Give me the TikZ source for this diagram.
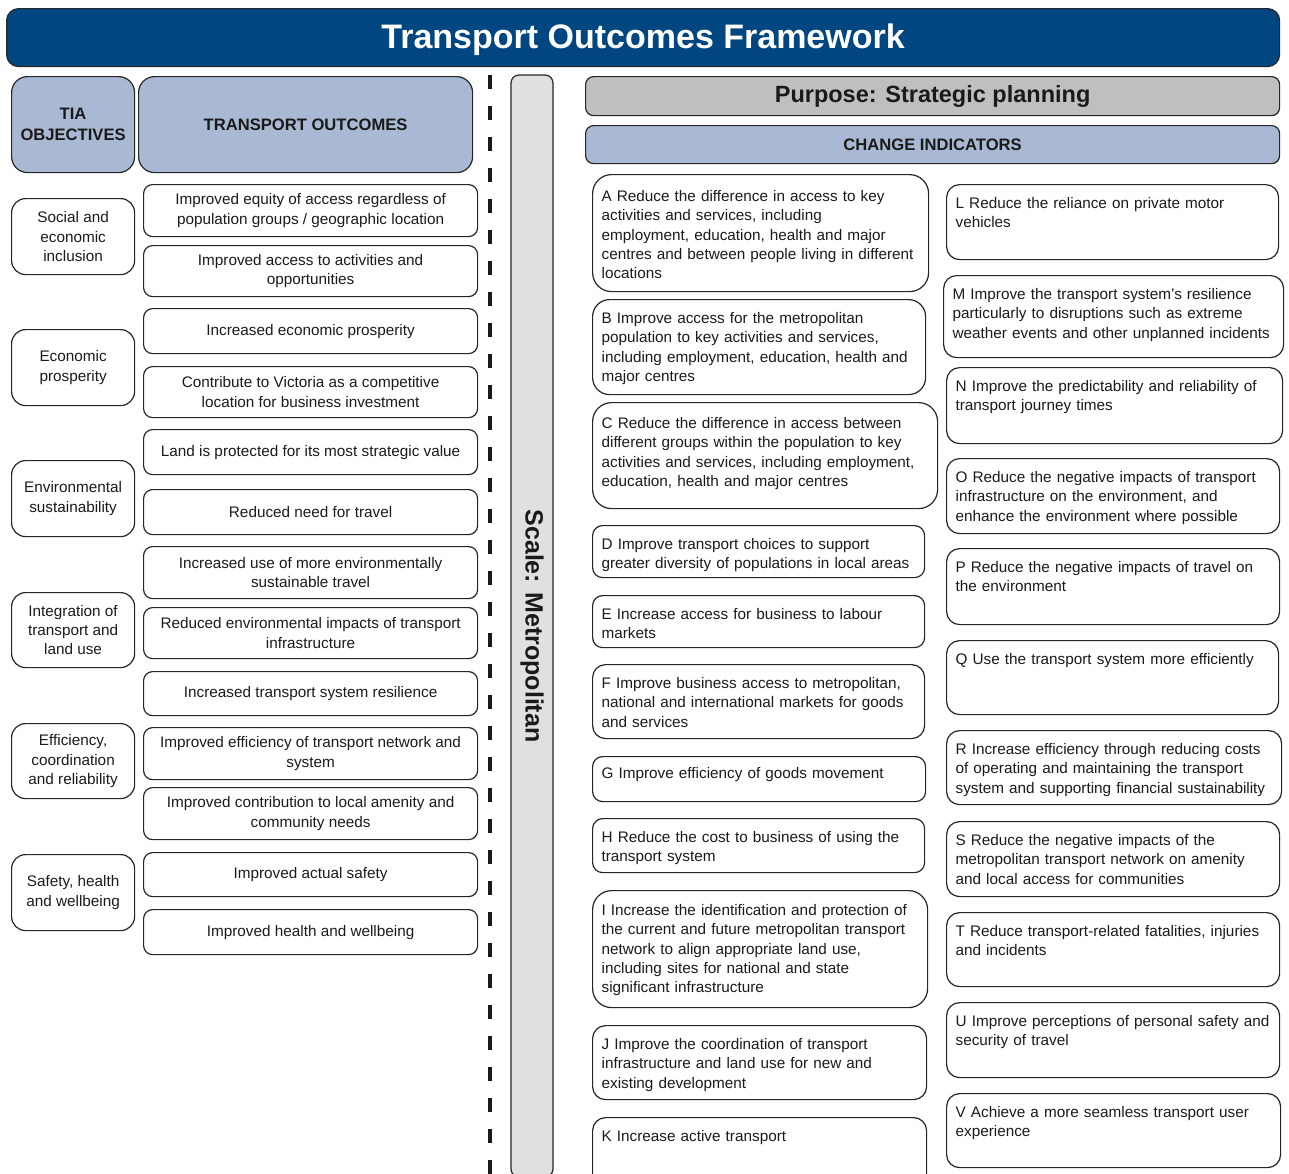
\documentclass[tikz,border=0pt]{standalone}
\usepackage{fontspec}
\setmainfont{Liberation Sans}
\usepackage{xcolor}
\usepackage{tikz}
\usetikzlibrary{positioning}
\definecolor{titleblue}{HTML}{004680}
\definecolor{headblue}{HTML}{A9B9D4}
\definecolor{purposegrey}{HTML}{BFBFBF}
\definecolor{scalegrey}{HTML}{E0E0E0}
\definecolor{border}{HTML}{262626}
\definecolor{ink}{HTML}{1A1A1A}
\tikzset{
  box/.style={draw=border, line width=1.2pt, rounded corners=10pt, anchor=north west, inner sep=0pt, text=ink, font=\fontsize{15.3}{19.2}\selectfont},
  head/.style={box, fill=headblue, rounded corners=16pt, align=center, font=\bfseries\fontsize{16.6}{21}\selectfont},
  obj/.style={box, rounded corners=14pt, minimum width=123pt, align=center},
  outc/.style={box, rounded corners=9pt, minimum width=334pt, align=center},
  ind/.style={box, rounded corners=13pt, align=left, inner xsep=9pt, text height=24pt},
  dashline/.style={draw=ink, line width=3.5pt, dash pattern=on 14pt off 17pt},
}

\begin{document}
\begin{tikzpicture}[x=1pt, y=-1pt]
\useasboundingbox (0,0) rectangle (1289,1173);
\clip (0,0) rectangle (1289,1173);

% title and headers
\node[box, fill=titleblue, rounded corners=12pt, minimum width=1273pt, minimum height=58pt, text=white, font=\bfseries\fontsize{34}{40}\selectfont, text height=27pt, text depth=5pt] (title) at (6,8) {Transport Outcomes Framework};
\node[head, minimum width=123pt, minimum height=96pt] (tia) at (11,76) {TIA\\OBJECTIVES};
\node[head, minimum width=334pt, minimum height=96pt] (outhead) at (138,76) {TRANSPORT OUTCOMES};
\node[box, fill=purposegrey, rounded corners=8pt, minimum width=694pt, minimum height=39pt, font=\bfseries\fontsize{23.5}{28}\selectfont] (purpose) at (585,76) {Purpose: Strategic planning};
\node[head, rounded corners=8pt, minimum width=694pt, minimum height=38pt] (indhead) at (585,125) {CHANGE INDICATORS};

% divider and scale bar
\draw[dashline] (490,75) -- (490,1180);
\node[draw=border, line width=1.2pt, fill=scalegrey, rounded corners=8pt, rotate=-90, minimum width=1102pt, minimum height=42pt, inner sep=0pt, text=ink, font=\bfseries\fontsize{25}{30}\selectfont] (scale) at (532,626) {Scale: Metropolitan};

% TIA objectives
\node[obj, minimum height=76pt] (obj1) at (11,198) {Social and\\economic\\inclusion};
\node[obj, minimum height=76pt] (obj2) at (11,329) {Economic\\prosperity};
\node[obj, minimum height=76pt] (obj3) at (11,460) {Environmental\\sustainability};
\node[obj, minimum height=75pt] (obj4) at (11,592) {Integration of\\transport and\\land use};
\node[obj, minimum height=75pt] (obj5) at (11,723) {Efficiency,\\coordination\\and reliability};
\node[obj, minimum height=76pt] (obj6) at (11,854) {Safety, health\\and wellbeing};

% transport outcomes
\node[outc, minimum height=52pt] (out1) at (143,184) {Improved equity of access regardless of\\population groups / geographic location};
\node[outc, minimum height=51pt] (out2) at (143,245) {Improved access to activities and\\opportunities};
\node[outc, minimum height=45pt] (out3) at (143,308) {Increased economic prosperity};
\node[outc, minimum height=51pt] (out4) at (143,366) {Contribute to Victoria as a competitive\\location for business investment};
\node[outc, minimum height=45pt] (out5) at (143,429) {Land is protected for its most strategic value};
\node[outc, minimum height=45pt] (out6) at (143,489) {Reduced need for travel};
\node[outc, minimum height=52pt] (out7) at (143,546) {Increased use of more environmentally\\sustainable travel};
\node[outc, minimum height=51pt] (out8) at (143,607) {Reduced environmental impacts of transport\\infrastructure};
\node[outc, minimum height=44pt] (out9) at (143,671) {Increased transport system resilience};
\node[outc, minimum height=52pt] (out10) at (143,727) {Improved efficiency of transport network and\\system};
\node[outc, minimum height=52pt] (out11) at (143,787) {Improved contribution to local amenity and\\community needs};
\node[outc, minimum height=44pt] (out12) at (143,852) {Improved actual safety};
\node[outc, minimum height=45pt] (out13) at (143,909) {Improved health and wellbeing};

% change indicators, left column
\node[ind, text width=318pt, text height=27pt, text depth=90pt, rounded corners=19pt] (indA) at (592,174) {A Reduce the difference in access to key\\activities and services, including\\employment, education, health and major\\centres and between people living in different\\locations};
\node[ind, text width=315pt, text depth=71pt, rounded corners=17pt] (indB) at (592,299) {B Improve access for the metropolitan\\population to key activities and services,\\including employment, education, health and\\major centres};
\node[ind, text width=327pt, text height=26pt, text depth=80pt, rounded corners=19pt] (indC) at (592,402) {C Reduce the difference in access between\\different groups within the population to key\\activities and services, including employment,\\education, health and major centres};
\node[ind, text width=314pt, text depth=28pt, rounded corners=10pt] (indD) at (592,525) {D Improve transport choices to support\\greater diversity of populations in local areas};
\node[ind, text width=314pt, text depth=28pt, rounded corners=10pt] (indE) at (592,595) {E Increase access for business to labour\\markets};
\node[ind, text width=314pt, text depth=50pt] (indF) at (592,664) {F Improve business access to metropolitan,\\national and international markets for goods\\and services};
\node[ind, text width=315pt, text height=22pt, text depth=23pt, rounded corners=10pt] (indG) at (592,756) {G Improve efficiency of goods movement};
\node[ind, text width=314pt, text depth=30pt, rounded corners=10pt] (indH) at (592,818) {H Reduce the cost to business of using the\\transport system};
\node[ind, text width=317pt, text height=25pt, text depth=92pt, rounded corners=19pt] (indI) at (592,890) {I Increase the identification and protection of\\the current and future metropolitan transport\\network to align appropriate land use,\\including sites for national and state\\significant infrastructure};
\node[ind, text width=316pt, text depth=50pt] (indJ) at (592,1025) {J Improve the coordination of transport\\infrastructure and land use for new and\\existing development};
\node[ind, text width=316pt, text depth=56pt] (indK) at (592,1117) {K Increase active transport};

% change indicators, right column
\node[ind, text width=314pt, text depth=51pt] (indL) at (946,184) {L Reduce the reliance on private motor\\vehicles};
\node[ind, text width=322pt, text depth=58pt] (indM) at (943,275) {M Improve the transport system's resilience\\particularly to disruptions such as extreme\\weather events and other unplanned incidents};
\node[ind, text width=318pt, text depth=52pt] (indN) at (946,367) {N Improve the predictability and reliability of\\transport journey times};
\node[ind, text width=315pt, text depth=51pt] (indO) at (946,458) {O Reduce the negative impacts of transport\\infrastructure on the environment, and\\enhance the environment where possible};
\node[ind, text width=315pt, text depth=52pt] (indP) at (946,548) {P Reduce the negative impacts of travel on\\the environment};
\node[ind, text width=314pt, text depth=50pt] (indQ) at (946,640) {Q Use the transport system more efficiently};
\node[ind, text width=317pt, text depth=50pt] (indR) at (946,730) {R Increase efficiency through reducing costs\\of operating and maintaining the transport\\system and supporting financial sustainability};
\node[ind, text width=315pt, text depth=51pt] (indS) at (946,821) {S Reduce the negative impacts of the\\metropolitan transport network on amenity\\and local access for communities};
\node[ind, text width=315pt, text depth=50pt] (indT) at (946,912) {T Reduce transport-related fatalities, injuries\\and incidents};
\node[ind, text width=315pt, text depth=51pt] (indU) at (946,1002) {U Improve perceptions of personal safety and\\security of travel};
\node[ind, text width=316pt, text depth=50pt] (indV) at (946,1093) {V Achieve a more seamless transport user\\experience};
\end{tikzpicture}
\end{document}
